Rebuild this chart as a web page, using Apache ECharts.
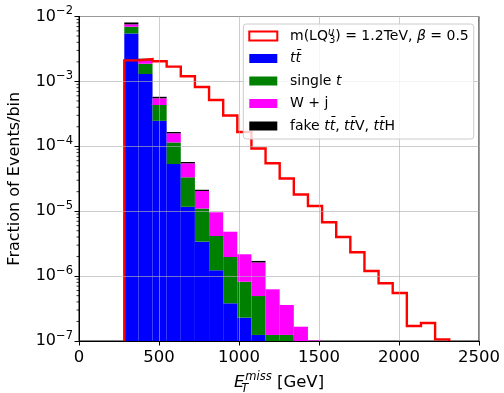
<!DOCTYPE html>
<html><head><meta charset="utf-8">
<script src="https://cdn.jsdelivr.net/npm/echarts@6/dist/echarts.min.js"></script>
<style>html,body{margin:0;padding:0;background:#fff}#c{width:504px;height:393px}</style>
</head><body><div id="c"></div>
<script>
// ---------------- data ----------------
const binEdges = [283, 371.3, 459.6, 547.9, 636.2, 724.5, 812.8, 901.1, 989.4, 1077.7, 1166, 1254.3,
  1342.6, 1430.9, 1519.2, 1607.5, 1695.8, 1784.1, 1872.4, 1960.7, 2049, 2137.3, 2225.6, 2313.9];
// signal m(LQ)=1.2 TeV, beta=0.5 (step outline)
const signal = [2.11e-3, 2.21e-3, 2.04e-3, 1.69e-3, 1.20e-3, 8.2e-4, 5.17e-4, 2.98e-4, 1.66e-4, 9.25e-5,
  5.47e-5, 3.19e-5, 1.81e-5, 1.20e-5, 6.75e-6, 4.0e-6, 2.33e-6, 1.20e-6, 7.75e-7, 5.5e-7, 1.70e-7, 1.89e-7, 1.06e-7];
// stacked backgrounds (per-process contribution per bin)
const ttbar     = [5.47e-3, 1.30e-3, 2.47e-4, 5.33e-5, 1.17e-5, 3.39e-6, 1.23e-6, 3.81e-7, 2.29e-7, 1.24e-7, 0, 0, 0, 0];
const singleTop = [1.47e-3, 5.7e-4, 1.86e-4, 6.12e-5, 2.16e-5, 7.6e-6, 2.92e-6, 1.59e-6, 5.9e-7, 3.69e-7, 1.24e-7, 1.24e-7, 0, 0];
const wJets     = [6.4e-4, 2.3e-4, 1.16e-4, 4.4e-5, 2.14e-5, 9.5e-6, 5.47e-6, 2.86e-6, 1.35e-6, 1.13e-6, 5.02e-7, 2.35e-7, 1.66e-7, 1.02e-7];
const fakes     = [5.1e-4, 1.4e-4, 3.0e-5, 7.5e-6, 2.6e-6, 9e-7, 0, 0, 0, 9e-8, 0, 0, 0, 0];
// axis ticks
const xTicks = [0, 500, 1000, 1500, 2000, 2500];
const yTickExponents = [-7, -6, -5, -4, -3, -2];

// ---------------- chart ----------------
const FONT = 'DejaVu Sans';
const YMIN = Math.pow(10, yTickExponents[0]);
const YMAX = Math.pow(10, yTickExponents[yTickExponents.length - 1]);

const stacks = [
  {name: 'ttbar', values: ttbar, color: '#0000ff'},
  {name: 'single', values: singleTop, color: '#008000'},
  {name: 'wj', values: wJets, color: '#ff00ff'},
  {name: 'fake', values: fakes, color: '#000000'}
];

function renderBar(params, api) {
  const x0 = api.value(0), x1 = api.value(1), y0 = api.value(2), y1 = api.value(3);
  if (!(y1 > y0)) return;
  const p0 = api.coord([x0, y0]);
  const p1 = api.coord([x1, y1]);
  return {type: 'rect', shape: {x: p0[0], y: p1[1], width: p1[0] - p0[0], height: p0[1] - p1[1]},
    style: {fill: api.visual('color')}};
}

const cum = binEdges.slice(0, -1).map(() => 0);
const series = [];
stacks.forEach(s => {
  const data = [];
  s.values.forEach((v, k) => {
    const b = cum[k];
    cum[k] = b + v;
    data.push([binEdges[k], binEdges[k + 1], Math.max(b, YMIN), Math.max(b + v, YMIN)]);
  });
  series.push({type: 'custom', name: s.name, renderItem: renderBar, data: data, z: 2,
    itemStyle: {color: s.color}, encode: {x: [0, 1], y: [3]}, silent: true});
});

// signal step outline
const sigPts = [[binEdges[0], YMIN]];
signal.forEach((v, k) => { sigPts.push([binEdges[k], v]); sigPts.push([binEdges[k + 1], v]); });
sigPts.push([binEdges[signal.length], YMIN]);
series.unshift({type: 'line', name: 'sig', data: sigPts, showSymbol: false, symbol: 'none', z: 2,
  lineStyle: {color: '#ff0000', width: 2.4, join: 'miter'}, itemStyle: {color: '#ff0000'}, silent: true});

// minor ticks on log axis
const minorVals = [];
for (let e = yTickExponents[0]; e < yTickExponents[yTickExponents.length - 1]; e++) {
  for (let m = 2; m <= 9; m++) minorVals.push([0, m * Math.pow(10, e)]);
}
series.push({type: 'custom', name: 'minor', data: minorVals, z: 3, silent: true, clip: false,
  encode: {x: 0, y: 1},
  renderItem: (params, api) => {
    const p = api.coord([api.value(0), api.value(1)]);
    return {type: 'line', shape: {x1: p[0] - 2.5, y1: p[1], x2: p[0], y2: p[1]},
      style: {stroke: '#000', lineWidth: 0.8}};
  }});

const legendText = {
  sig: '{g| }{n|m(LQ}{su|u}{sb|3}{n|) = 1.2TeV, }{i|β}{n| = 0.5}',
  ttbar: '{g| }{i|tt\u0304}',
  single: '{g| }{n|single }{i|t}',
  wj: '{g| }{n|W + j}',
  fake: '{g| }{n|fake }{i|tt\u0304}{n|, }{i|tt\u0304}{n|V, }{i|tt\u0304}{n|H}'
};
const legendRich = {
  g: {width: 7.7, fontSize: 14, lineHeight: 18},
  n: {fontFamily: FONT, fontSize: 14, lineHeight: 18, color: '#000'},
  i: {fontFamily: FONT, fontSize: 14, lineHeight: 18, color: '#000', fontStyle: 'italic'},
  su: {fontFamily: FONT, fontSize: 10, lineHeight: 11, color: '#000', fontStyle: 'italic', verticalAlign: 'top', width: 1},
  sb: {fontFamily: FONT, fontSize: 10, lineHeight: 11, color: '#000', verticalAlign: 'bottom'}
};

const option = {
  animation: false,
  grid: {left: 79, top: 16.5, width: 400, height: 324.5, show: true, borderColor: '#000', borderWidth: 1,
    backgroundColor: 'transparent', containLabel: false, outerBoundsMode: 'none'},
  legend: {
    orient: 'vertical', left: 243.3, top: 24, z: 10,
    padding: [3, 5, 4, 5], itemGap: 4.5, itemWidth: 28, itemHeight: 9,
    backgroundColor: 'rgba(255,255,255,0.8)', borderColor: '#cccccc', borderWidth: 1, borderRadius: 3,
    selectedMode: false,
    textStyle: {fontFamily: FONT, fontSize: 14, color: '#000', lineHeight: 18, rich: legendRich},
    formatter: name => legendText[name],
    data: [
      {name: 'sig', icon: 'rect', itemStyle: {color: 'rgba(255,255,255,0)', borderColor: '#ff0000', borderWidth: 2}},
      {name: 'ttbar', icon: 'rect', itemStyle: {color: '#0000ff', borderWidth: 0}},
      {name: 'single', icon: 'rect', itemStyle: {color: '#008000', borderWidth: 0}},
      {name: 'wj', icon: 'rect', itemStyle: {color: '#ff00ff', borderWidth: 0}},
      {name: 'fake', icon: 'rect', itemStyle: {color: '#000000', borderWidth: 0}}
    ]
  },
  xAxis: {
    type: 'value', min: xTicks[0], max: xTicks[xTicks.length - 1], interval: xTicks[1] - xTicks[0], z: 3,
    axisLine: {show: true, onZero: false, lineStyle: {color: '#000', width: 1}},
    axisTick: {show: true, inside: false, length: 4.5, lineStyle: {color: '#000', width: 1}},
    axisLabel: {fontFamily: FONT, fontSize: 16.5, color: '#000', margin: 8, formatter: v => String(v)},
    splitLine: {show: true, lineStyle: {color: '#b0b0b0', width: 0.8, opacity: 0.8}},
    name: '{e|E}{t|T}{m|miss}{n| [GeV]}', nameLocation: 'middle', nameGap: 29,
    nameTextStyle: {rich: {
      e: {fontFamily: FONT, fontSize: 16.5, lineHeight: 24, fontStyle: 'italic', color: '#000'},
      t: {fontFamily: FONT, fontSize: 11.5, lineHeight: 12, fontStyle: 'italic', color: '#000', verticalAlign: 'bottom', width: 1},
      m: {fontFamily: FONT, fontSize: 11.5, lineHeight: 12, fontStyle: 'italic', color: '#000', verticalAlign: 'top'},
      n: {fontFamily: FONT, fontSize: 16.5, lineHeight: 24, color: '#000'}
    }}
  },
  yAxis: {
    type: 'log', logBase: 10, min: YMIN, max: YMAX, z: 3,
    axisLine: {show: true, onZero: false, lineStyle: {color: '#000', width: 1}},
    axisTick: {show: true, inside: false, length: 4.5, lineStyle: {color: '#000', width: 1}},
    axisLabel: {margin: 6, formatter: v => {
      const e = Math.round(Math.log10(v));
      return '{b|10}{s|\u2212' + Math.abs(e) + '}';
    }, rich: {
      b: {fontFamily: FONT, fontSize: 16, lineHeight: 22, color: '#000'},
      s: {fontFamily: FONT, fontSize: 11.5, lineHeight: 12, color: '#000', verticalAlign: 'top'}
    }},
    splitLine: {show: true, lineStyle: {color: '#b0b0b0', width: 0.8, opacity: 0.8}},
    name: 'Fraction of Events/bin', nameLocation: 'middle', nameGap: 56,
    nameTextStyle: {fontFamily: FONT, fontSize: 16, color: '#000'}
  },
  series: series
};

const chart = echarts.init(document.getElementById('c'), null, {renderer: 'canvas'});
chart.setOption(option);
</script>
</body></html>
